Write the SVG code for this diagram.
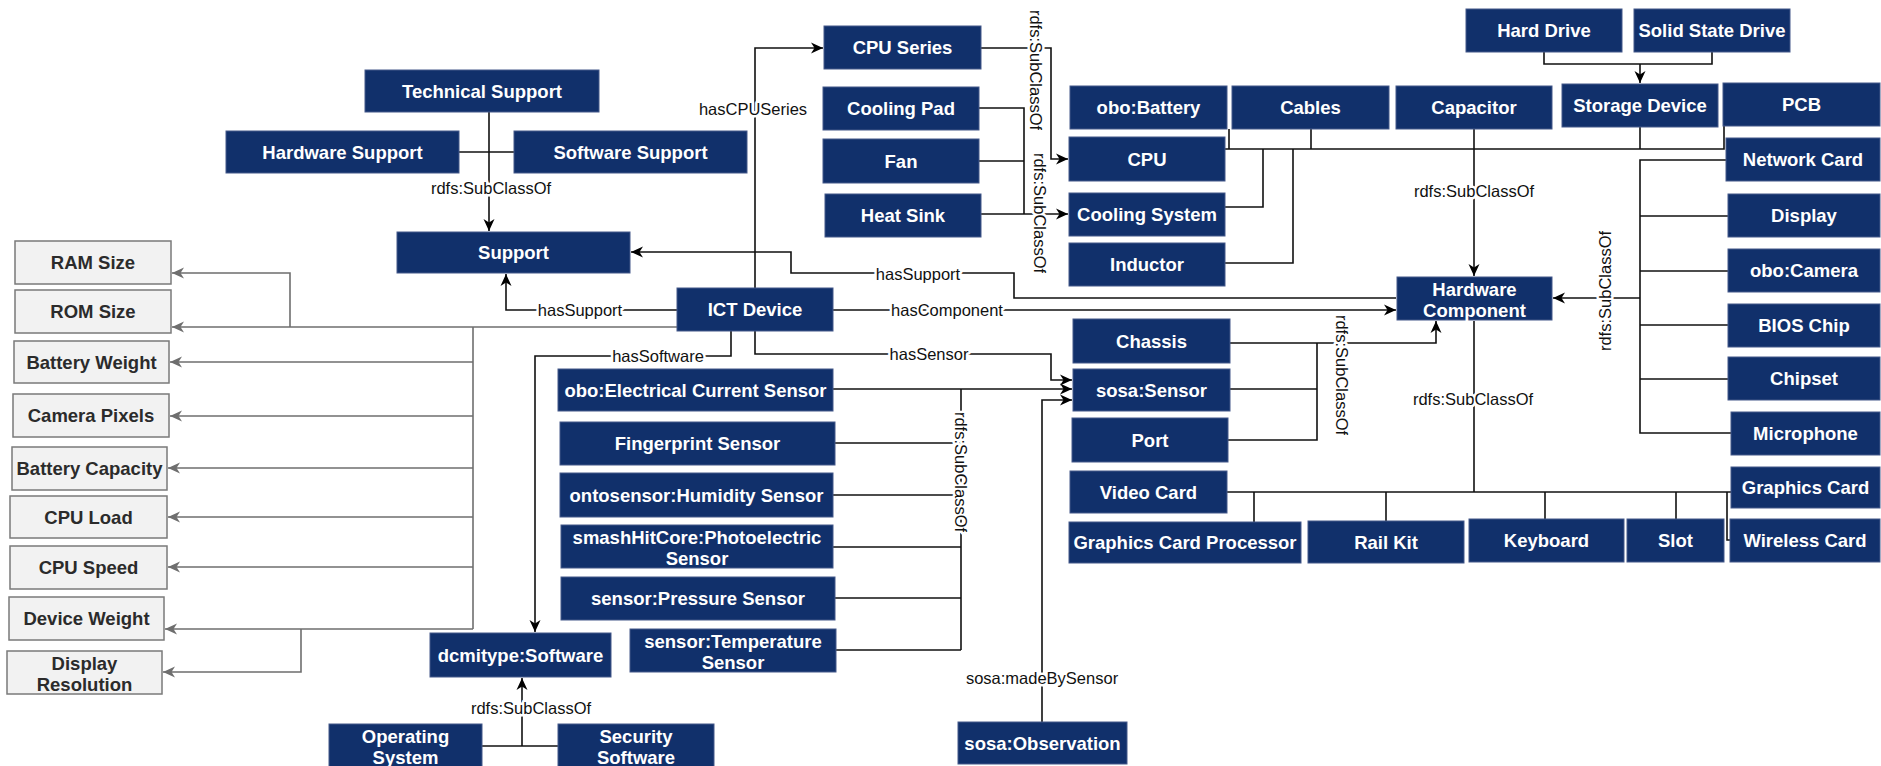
<svg xmlns="http://www.w3.org/2000/svg" width="1881" height="766" viewBox="0 0 1881 766">
<defs>
<marker id="ab" markerUnits="userSpaceOnUse" markerWidth="13" markerHeight="12" refX="12" refY="6" orient="auto"><path d="M0,0.5 L12,6 L0,11.5 L3.5,6 Z" fill="#000"/></marker>
<marker id="ag" markerUnits="userSpaceOnUse" markerWidth="13" markerHeight="12" refX="12" refY="6" orient="auto"><path d="M0,0.5 L12,6 L0,11.5 L3.5,6 Z" fill="#6e6e6e"/></marker>
<style>
.n rect{fill:#11306b;stroke:#45598a;stroke-width:1}
.n text{fill:#fff;font-family:"Liberation Sans",Arial,sans-serif;font-weight:bold;font-size:18.5px;text-anchor:middle;dominant-baseline:central}
.g rect{fill:#f2f2f2;stroke:#7a7a7a;stroke-width:1.5}
.g text{fill:#2b2b2b;font-family:"Liberation Sans",Arial,sans-serif;font-weight:bold;font-size:18.5px;text-anchor:middle;dominant-baseline:central}
.e path{fill:none;stroke:#111;stroke-width:1.6}
.eg path{fill:none;stroke:#6e6e6e;stroke-width:1.6}
.lbl{font-family:"Liberation Sans",Arial,sans-serif;font-size:16.5px;fill:#111;text-anchor:middle;dominant-baseline:central;paint-order:stroke;stroke:#fff;stroke-width:5px;stroke-linejoin:round}
</style>
</defs>
<rect width="1881" height="766" fill="#fff"/>

<g id="connectors">
<g class="eg">
<path d="M677,327 H172" marker-end="url(#ag)"/>
<path d="M290,327 V273 H172" marker-end="url(#ag)"/>
<path d="M473,327 V629"/>
<path d="M473,362 H170" marker-end="url(#ag)"/>
<path d="M473,416 H170" marker-end="url(#ag)"/>
<path d="M473,468 H168" marker-end="url(#ag)"/>
<path d="M473,517 H168" marker-end="url(#ag)"/>
<path d="M473,567 H168" marker-end="url(#ag)"/>
<path d="M473,629 H165" marker-end="url(#ag)"/>
<path d="M301,629 V672 H163" marker-end="url(#ag)"/>
</g>
<g class="e">
<path d="M489,112 V231" marker-end="url(#ab)"/>
<path d="M459,152 H514"/>
<path d="M677,310 H506 V274" marker-end="url(#ab)"/>
<path d="M1396,298 H1014 V273 H791 V252 H631" marker-end="url(#ab)"/>
<path d="M833,310 H1396" marker-end="url(#ab)"/>
<path d="M755,288 V48 H823" marker-end="url(#ab)"/>
<path d="M731,331 V356 H535 V632" marker-end="url(#ab)"/>
<path d="M755,331 V354 H1051 V380 H1072" marker-end="url(#ab)"/>
<path d="M981,48 H1051 V159 H1068" marker-end="url(#ab)"/>
<path d="M979,108 H1024 V214"/>
<path d="M979,161 H1024"/>
<path d="M981,214 H1068" marker-end="url(#ab)"/>
<path d="M1225,149 H1724 V126"/>
<path d="M1229,129 V149"/>
<path d="M1311,129 V149"/>
<path d="M1640,127 V149"/>
<path d="M1474,129 V276" marker-end="url(#ab)"/>
<path d="M1225,207 H1263 V149"/>
<path d="M1225,263 H1293 V149"/>
<path d="M1544,52 V64 H1712 V52"/>
<path d="M1640,64 V83" marker-end="url(#ab)"/>
<path d="M1726,160 H1640 V433 H1731"/>
<path d="M1640,216 H1728"/>
<path d="M1640,271 H1728"/>
<path d="M1640,325 H1728"/>
<path d="M1640,379 H1728"/>
<path d="M1640,298 H1553" marker-end="url(#ab)"/>
<path d="M1230,343 H1436 V321" marker-end="url(#ab)"/>
<path d="M1230,389 H1317"/>
<path d="M1228,440 H1317 V343"/>
<path d="M833,389 H1072" marker-end="url(#ab)"/>
<path d="M961,389 V650"/>
<path d="M835,443 H961"/>
<path d="M833,495 H961"/>
<path d="M833,547 H961"/>
<path d="M835,598 H961"/>
<path d="M836,650 H961"/>
<path d="M1042,722 V400 H1072" marker-end="url(#ab)"/>
<path d="M482,746 H558"/>
<path d="M522,746 V678" marker-end="url(#ab)"/>
<path d="M1474,321 V492"/>
<path d="M1227,492 H1731"/>
<path d="M1254,492 V522"/>
<path d="M1386,492 V521"/>
<path d="M1545,492 V519"/>
<path d="M1676,492 V519"/>
<path d="M1727,492 V540 H1730"/>
</g>
<g id="labels">
<text class="lbl" x="491" y="188">rdfs:SubClassOf</text>
<text class="lbl" x="580" y="310">hasSupport</text>
<text class="lbl" x="918" y="274">hasSupport</text>
<text class="lbl" x="947" y="310">hasComponent</text>
<text class="lbl" x="753" y="109">hasCPUSeries</text>
<text class="lbl" x="658" y="356">hasSoftware</text>
<text class="lbl" x="929" y="354">hasSensor</text>
<text class="lbl" transform="translate(1036,70) rotate(90)">rdfs:SubClassOf</text>
<text class="lbl" transform="translate(1040,213) rotate(90)">rdfs:SubClassOf</text>
<text class="lbl" x="1474" y="191">rdfs:SubClassOf</text>
<text class="lbl" transform="translate(1605,291) rotate(-90)">rdfs:SubClassOf</text>
<text class="lbl" transform="translate(1342,375) rotate(90)">rdfs:SubClassOf</text>
<text class="lbl" transform="translate(961,472) rotate(90)">rdfs:SubClassOf</text>
<text class="lbl" x="1473" y="399">rdfs:SubClassOf</text>
<text class="lbl" x="1042" y="678">sosa:madeBySensor</text>
<text class="lbl" x="531" y="708">rdfs:SubClassOf</text>
</g>
</g>

<g id="technical-support" class="n"><rect x="365" y="70" width="234" height="42"/><text x="482" y="91">Technical Support</text></g>
<g id="hardware-support" class="n"><rect x="226" y="131" width="233" height="42"/><text x="342.5" y="152">Hardware Support</text></g>
<g id="software-support" class="n"><rect x="514" y="131" width="233" height="42"/><text x="630.5" y="152">Software Support</text></g>
<g id="support" class="n"><rect x="397" y="232" width="233" height="41"/><text x="513.5" y="252.5">Support</text></g>
<g id="ict-device" class="n"><rect x="677" y="288" width="156" height="43"/><text x="755" y="309.5">ICT Device</text></g>
<g id="cpu-series" class="n"><rect x="824" y="26" width="157" height="43"/><text x="902.5" y="47.5">CPU Series</text></g>
<g id="cooling-pad" class="n"><rect x="823" y="87" width="156" height="43"/><text x="901" y="108.5">Cooling Pad</text></g>
<g id="fan" class="n"><rect x="823" y="139" width="156" height="44"/><text x="901" y="161">Fan</text></g>
<g id="heat-sink" class="n"><rect x="825" y="194" width="156" height="43"/><text x="903" y="215.5">Heat Sink</text></g>
<g id="obo-battery" class="n"><rect x="1070" y="86" width="157" height="43"/><text x="1148.5" y="107.5">obo:Battery</text></g>
<g id="cables" class="n"><rect x="1232" y="86" width="157" height="43"/><text x="1310.5" y="107.5">Cables</text></g>
<g id="capacitor" class="n"><rect x="1396" y="86" width="156" height="43"/><text x="1474" y="107.5">Capacitor</text></g>
<g id="storage-device" class="n"><rect x="1562" y="84" width="156" height="43"/><text x="1640" y="105.5">Storage Device</text></g>
<g id="pcb" class="n"><rect x="1723" y="83" width="157" height="43"/><text x="1801.5" y="104.5">PCB</text></g>
<g id="hard-drive" class="n"><rect x="1466" y="9" width="156" height="43"/><text x="1544" y="30.5">Hard Drive</text></g>
<g id="solid-state-drive" class="n"><rect x="1634" y="9" width="156" height="43"/><text x="1712" y="30.5">Solid State Drive</text></g>
<g id="cpu" class="n"><rect x="1069" y="137" width="156" height="44"/><text x="1147" y="159">CPU</text></g>
<g id="cooling-system" class="n"><rect x="1069" y="193" width="156" height="43"/><text x="1147" y="214.5">Cooling System</text></g>
<g id="inductor" class="n"><rect x="1069" y="243" width="156" height="43"/><text x="1147" y="264.5">Inductor</text></g>
<g id="hardware-component" class="n"><rect x="1397" y="277" width="155" height="43"/><text x="1474.5" y="298.5"><tspan x="1474.5" dy="-10">Hardware</tspan><tspan x="1474.5" dy="21">Component</tspan></text></g>
<g id="network-card" class="n"><rect x="1726" y="138" width="154" height="43"/><text x="1803" y="159.5">Network Card</text></g>
<g id="display" class="n"><rect x="1728" y="194" width="152" height="43"/><text x="1804" y="215.5">Display</text></g>
<g id="obo-camera" class="n"><rect x="1728" y="249" width="152" height="43"/><text x="1804" y="270.5">obo:Camera</text></g>
<g id="bios-chip" class="n"><rect x="1728" y="304" width="152" height="43"/><text x="1804" y="325.5">BIOS Chip</text></g>
<g id="chipset" class="n"><rect x="1728" y="357" width="152" height="43"/><text x="1804" y="378.5">Chipset</text></g>
<g id="microphone" class="n"><rect x="1731" y="412" width="149" height="43"/><text x="1805.5" y="433.5">Microphone</text></g>
<g id="graphics-card" class="n"><rect x="1731" y="467" width="149" height="41"/><text x="1805.5" y="487.5">Graphics Card</text></g>
<g id="wireless-card" class="n"><rect x="1730" y="519" width="150" height="43"/><text x="1805" y="540.5">Wireless Card</text></g>
<g id="slot" class="n"><rect x="1627" y="519" width="97" height="43"/><text x="1675.5" y="540.5">Slot</text></g>
<g id="keyboard" class="n"><rect x="1469" y="519" width="155" height="43"/><text x="1546.5" y="540.5">Keyboard</text></g>
<g id="rail-kit" class="n"><rect x="1308" y="521" width="156" height="42"/><text x="1386" y="542">Rail Kit</text></g>
<g id="graphics-card-processor" class="n"><rect x="1069" y="522" width="232" height="41"/><text x="1185" y="542.5">Graphics Card Processor</text></g>
<g id="chassis" class="n"><rect x="1073" y="319" width="157" height="44"/><text x="1151.5" y="341">Chassis</text></g>
<g id="sosa-sensor" class="n"><rect x="1073" y="369" width="157" height="42"/><text x="1151.5" y="390">sosa:Sensor</text></g>
<g id="port" class="n"><rect x="1072" y="418" width="156" height="44"/><text x="1150" y="440">Port</text></g>
<g id="video-card" class="n"><rect x="1070" y="471" width="157" height="42"/><text x="1148.5" y="492">Video Card</text></g>
<g id="electrical-current-sensor" class="n"><rect x="558" y="369" width="275" height="42"/><text x="695.5" y="390">obo:Electrical Current Sensor</text></g>
<g id="fingerprint-sensor" class="n"><rect x="560" y="422" width="275" height="43"/><text x="697.5" y="443.5">Fingerprint Sensor</text></g>
<g id="humidity-sensor" class="n"><rect x="560" y="473" width="273" height="44"/><text x="696.5" y="495">ontosensor:Humidity Sensor</text></g>
<g id="photoelectric-sensor" class="n"><rect x="561" y="525" width="272" height="43"/><text x="697" y="546.5"><tspan x="697" dy="-10">smashHitCore:Photoelectric</tspan><tspan x="697" dy="21">Sensor</tspan></text></g>
<g id="pressure-sensor" class="n"><rect x="561" y="577" width="274" height="43"/><text x="698" y="598.5">sensor:Pressure Sensor</text></g>
<g id="temperature-sensor" class="n"><rect x="630" y="629" width="206" height="43"/><text x="733" y="650.5"><tspan x="733" dy="-10">sensor:Temperature</tspan><tspan x="733" dy="21">Sensor</tspan></text></g>
<g id="dcmitype-software" class="n"><rect x="430" y="633" width="181" height="44"/><text x="520.5" y="655">dcmitype:Software</text></g>
<g id="operating-system" class="n"><rect x="329" y="724" width="153" height="44"/><text x="405.5" y="746"><tspan x="405.5" dy="-10">Operating</tspan><tspan x="405.5" dy="21">System</tspan></text></g>
<g id="security-software" class="n"><rect x="558" y="724" width="156" height="44"/><text x="636" y="746"><tspan x="636" dy="-10">Security</tspan><tspan x="636" dy="21">Software</tspan></text></g>
<g id="sosa-observation" class="n"><rect x="958" y="722" width="169" height="42"/><text x="1042.5" y="743">sosa:Observation</text></g>

<g id="ram-size" class="g"><rect x="15" y="241" width="156" height="43"/><text x="93" y="262.5">RAM Size</text></g>
<g id="rom-size" class="g"><rect x="15" y="290" width="156" height="43"/><text x="93" y="311.5">ROM Size</text></g>
<g id="battery-weight" class="g"><rect x="14" y="341" width="155" height="42"/><text x="91.5" y="362">Battery Weight</text></g>
<g id="camera-pixels" class="g"><rect x="13" y="394" width="156" height="43"/><text x="91" y="415.5">Camera Pixels</text></g>
<g id="battery-capacity" class="g"><rect x="12" y="447" width="155" height="43"/><text x="89.5" y="468.5">Battery Capacity</text></g>
<g id="cpu-load" class="g"><rect x="10" y="496" width="157" height="42"/><text x="88.5" y="517">CPU Load</text></g>
<g id="cpu-speed" class="g"><rect x="10" y="546" width="157" height="43"/><text x="88.5" y="567.5">CPU Speed</text></g>
<g id="device-weight" class="g"><rect x="9" y="597" width="155" height="43"/><text x="86.5" y="618.5">Device Weight</text></g>
<g id="display-resolution" class="g"><rect x="7" y="651" width="155" height="43"/><text x="84.5" y="672.5"><tspan x="84.5" dy="-10">Display</tspan><tspan x="84.5" dy="21">Resolution</tspan></text></g>
</svg>
